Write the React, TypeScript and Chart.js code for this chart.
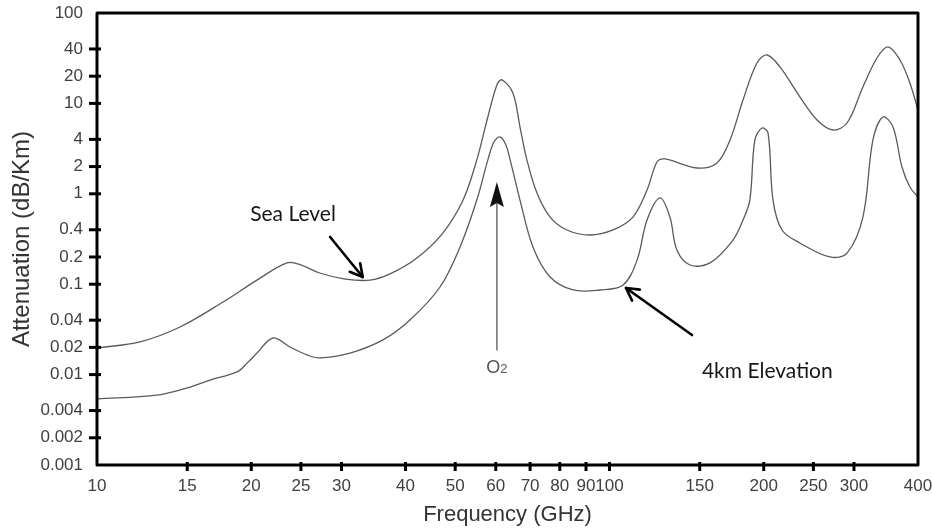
import React, { useEffect, useRef } from "react";
import { Chart, registerables } from "chart.js";

Chart.register(...registerables);

// Axis tick values
const frequencyTicks = [10, 15, 20, 25, 30, 40, 50, 60, 70, 80, 90, 100, 150, 200, 250, 300, 400];
const attenuationTicks = [0.001, 0.002, 0.004, 0.01, 0.02, 0.04, 0.1, 0.2, 0.4, 1, 2, 4, 10, 20, 40, 100];

// Sea level curve (GHz, dB/km)
const seaLevelFreq = [
  10, 12.13, 14.52, 17.62, 20.52, 23.48, 24.9, 27.2, 30.5, 34.1, 37.3, 42.1, 47.3, 51.8, 55.1, 57.7,
  60.3, 61.7, 64.8, 66.9, 69.0, 72.2, 76.6, 82.6, 91.6, 101.6, 111.1, 118.4, 123.8, 128.3, 148.2,
  162.1, 171.9, 182.2, 194.0, 203.0, 215.1, 235.3, 254.1, 273.1, 290.8, 312.3, 332.7, 349.5, 368.8,
  385.7, 400,
];
const seaLevelAtt = [
  0.0197, 0.023, 0.0336, 0.0635, 0.111, 0.172, 0.165, 0.133, 0.114, 0.111, 0.13, 0.195, 0.368, 0.853,
  2.37, 6.55, 16.0, 18.2, 13.0, 5.48, 2.37, 1.02, 0.553, 0.398, 0.35, 0.398, 0.553, 1.1, 2.25, 2.43,
  1.93, 2.19, 3.94, 10.9, 28.0, 34.3, 25.3, 11.8, 6.55, 5.08, 6.07, 15.2, 31.8, 42.1, 30.2, 16.8, 8.45,
];

// 4 km elevation curve (GHz, dB/km)
const elevationFreq = [
  10, 13.09, 15.19, 16.62, 18.76, 19.63, 20.52, 22.05, 23.8, 25.69, 27.2, 31.17, 36.14, 40.8, 46.7,
  51.1, 55.1, 57.9, 59.5, 61.1, 62.8, 64.0, 66.9, 70.9, 76.6, 84.9, 95.8, 106.3, 113.2, 118.4, 125.5,
  131.2, 135.4, 143.6, 157.1, 174.2, 182.2, 187.9, 192.2, 198.4, 203.9, 208.5, 217.1, 235.3, 269.3,
  290.8, 312.3, 326.7, 341.8, 357.5, 372.2, 385.7, 400,
];
const elevationAtt = [
  0.00537, 0.00594, 0.00729, 0.0087, 0.0107, 0.0134, 0.0173, 0.0254, 0.0202, 0.0165, 0.0153, 0.0173,
  0.0242, 0.0402, 0.0931, 0.258, 0.853, 2.37, 3.74, 4.25, 3.47, 2.37, 0.853, 0.258, 0.12, 0.0863,
  0.0863, 0.098, 0.185, 0.513, 0.899, 0.553, 0.239, 0.163, 0.172, 0.308, 0.513, 0.853, 3.94, 5.34,
  4.71, 0.853, 0.398, 0.286, 0.2, 0.221, 0.553, 3.94, 7.08, 5.48, 1.98, 1.19, 0.922,
];

// Annotations in data coordinates (GHz, dB/km)
const seaLevelLabel = { text: "Sea Level", f: 19.9, a: 0.5 };
const seaLevelArrow = { from: [28.5, 0.333], to: [33.0, 0.12] };
const elevationLabel = { text: "4km Elevation", f: 151.5, a: 0.00917 };
const elevationArrow = { from: [144.9, 0.0274], to: [107.7, 0.0908] };
const oxygenArrow = { from: [60.3, 0.0187], to: [60.3, 1.35] };
const oxygenLabel = { main: "O", sub: "2", f: 60.3, a: 0.0104 };

const AXIS_FONT = "'Liberation Sans', Arial, sans-serif";
const NOTE_FONT = "Lato, 'Open Sans', sans-serif";

const toPoints = (xs: number[], ys: number[]) => xs.map((x, i) => ({ x, y: ys[i] }));

const decorPlugin = {
  id: "decor",
  afterDraw(chart: any) {
    const { ctx, chartArea, scales } = chart;
    const { left, right, top, bottom } = chartArea;
    const xs = scales.x;
    const ys = scales.y;
    const P = (f: number, a: number) => [xs.getPixelForValue(f), ys.getPixelForValue(a)];
    ctx.save();

    // tick marks crossing the axes
    ctx.strokeStyle = "#000";
    ctx.lineWidth = 3;
    frequencyTicks.slice(1, -1).forEach((v) => {
      const px = xs.getPixelForValue(v);
      ctx.beginPath();
      ctx.moveTo(px, bottom - 3);
      ctx.lineTo(px, bottom + 6);
      ctx.stroke();
    });
    attenuationTicks.slice(1, -1).forEach((v) => {
      const py = ys.getPixelForValue(v);
      ctx.beginPath();
      ctx.moveTo(left - 8, py);
      ctx.lineTo(left + 4, py);
      ctx.stroke();
    });

    // frame
    ctx.lineWidth = 3;
    ctx.lineJoin = "round";
    ctx.strokeRect(left, top, right - left, bottom - top);

    // open-headed arrows
    const openArrow = (from: number[], to: number[]) => {
      const [x1, y1] = P(from[0], from[1]);
      const [x2, y2] = P(to[0], to[1]);
      const ang = Math.atan2(y2 - y1, x2 - x1);
      ctx.strokeStyle = "#000";
      ctx.lineWidth = 2.6;
      ctx.lineCap = "round";
      ctx.beginPath();
      ctx.moveTo(x1, y1);
      ctx.lineTo(x2, y2);
      ctx.stroke();
      const L = 14;
      const s = 0.5;
      ctx.beginPath();
      ctx.moveTo(x2 - L * Math.cos(ang - s), y2 - L * Math.sin(ang - s));
      ctx.lineTo(x2, y2);
      ctx.lineTo(x2 - L * Math.cos(ang + s), y2 - L * Math.sin(ang + s));
      ctx.stroke();
    };
    openArrow(seaLevelArrow.from, seaLevelArrow.to);
    openArrow(elevationArrow.from, elevationArrow.to);

    // O2 arrow
    {
      const [x1, y1] = P(oxygenArrow.from[0], oxygenArrow.from[1]);
      const [x2, y2] = P(oxygenArrow.to[0], oxygenArrow.to[1]);
      ctx.strokeStyle = "#777";
      ctx.lineWidth = 1.6;
      ctx.beginPath();
      ctx.moveTo(x1, y1);
      ctx.lineTo(x2, y2 + 18);
      ctx.stroke();
      ctx.fillStyle = "#111";
      ctx.beginPath();
      ctx.moveTo(x2, y2);
      ctx.lineTo(x2 + 7, y2 + 25);
      ctx.lineTo(x2, y2 + 21);
      ctx.lineTo(x2 - 7, y2 + 25);
      ctx.closePath();
      ctx.fill();
    }

    // labels
    ctx.fillStyle = "#161616";
    ctx.textBaseline = "alphabetic";
    ctx.textAlign = "left";
    ctx.font = `21px ${NOTE_FONT}`;
    {
      const [x, y] = P(seaLevelLabel.f, seaLevelLabel.a);
      ctx.fillText(seaLevelLabel.text, x, y);
    }
    {
      const [x, y] = P(elevationLabel.f, elevationLabel.a);
      ctx.fillText(elevationLabel.text, x, y);
    }
    {
      const [x, y] = P(oxygenLabel.f, oxygenLabel.a);
      ctx.fillStyle = "#555";
      ctx.font = `18px ${AXIS_FONT}`;
      const w1 = ctx.measureText(oxygenLabel.main).width;
      ctx.font = `13px ${AXIS_FONT}`;
      const w2 = ctx.measureText(oxygenLabel.sub).width;
      const x0 = x - (w1 + w2) / 2;
      ctx.font = `18px ${AXIS_FONT}`;
      ctx.fillText(oxygenLabel.main, x0, y);
      ctx.font = `13px ${AXIS_FONT}`;
      ctx.fillText(oxygenLabel.sub, x0 + w1, y);
    }
    ctx.restore();
  },
};

export default function App() {
  const canvasRef = useRef<HTMLCanvasElement | null>(null);

  useEffect(() => {
    if (!canvasRef.current) return;
    const lineStyle = {
      borderColor: "#5a5a5a",
      borderWidth: 1.3,
      pointRadius: 0,
      fill: false,
      tension: 0.35,
    };
    const chart = new Chart(canvasRef.current, {
      type: "line",
      data: {
        datasets: [
          { label: "Sea Level", data: toPoints(seaLevelFreq, seaLevelAtt), ...lineStyle },
          { label: "4km Elevation", data: toPoints(elevationFreq, elevationAtt), ...lineStyle },
        ],
      },
      options: {
        animation: false,
        responsive: true,
        maintainAspectRatio: false,
        layout: { padding: { left: 0, right: 14, top: 13, bottom: 0 } },
        plugins: { legend: { display: false }, tooltip: { enabled: false } },
        scales: {
          x: {
            type: "logarithmic",
            min: 10,
            max: 400,
            grid: { display: false, drawTicks: false },
            border: { display: false },
            afterBuildTicks: (scale: any) => {
              scale.ticks = frequencyTicks.map((v) => ({ value: v }));
            },
            afterFit: (scale: any) => {
              scale.height = 66;
              scale.paddingLeft = 0;
              scale.paddingRight = 0;
            },
            ticks: {
              autoSkip: false,
              maxRotation: 0,
              padding: 11,
              color: "#404040",
              font: { family: AXIS_FONT, size: 17 },
              callback: (v: any) => String(v),
            },
            title: {
              display: true,
              text: "Frequency (GHz)",
              color: "#333",
              font: { family: AXIS_FONT, size: 22 },
              padding: { top: 0, bottom: 3 },
            },
          },
          y: {
            type: "logarithmic",
            min: 0.001,
            max: 100,
            grid: { display: false, drawTicks: false },
            border: { display: false },
            afterBuildTicks: (scale: any) => {
              scale.ticks = attenuationTicks.map((v) => ({ value: v }));
            },
            afterFit: (scale: any) => {
              scale.width = 97;
              scale.paddingTop = 0;
              scale.paddingBottom = 0;
            },
            ticks: {
              autoSkip: false,
              padding: 14,
              color: "#404040",
              font: { family: AXIS_FONT, size: 17 },
              callback: (v: any) => String(v),
            },
            title: {
              display: true,
              text: "Attenuation (dB/Km)",
              color: "#333",
              font: { family: AXIS_FONT, size: 24 },
              padding: { top: 8, bottom: 0 },
            },
          },
        },
      },
      plugins: [decorPlugin],
    });
    return () => chart.destroy();
  }, []);

  return (
    <div style={{ position: "fixed", left: 0, top: 0, width: 932, height: 531, background: "#fff" }}>
      <canvas ref={canvasRef} />
    </div>
  );
}
